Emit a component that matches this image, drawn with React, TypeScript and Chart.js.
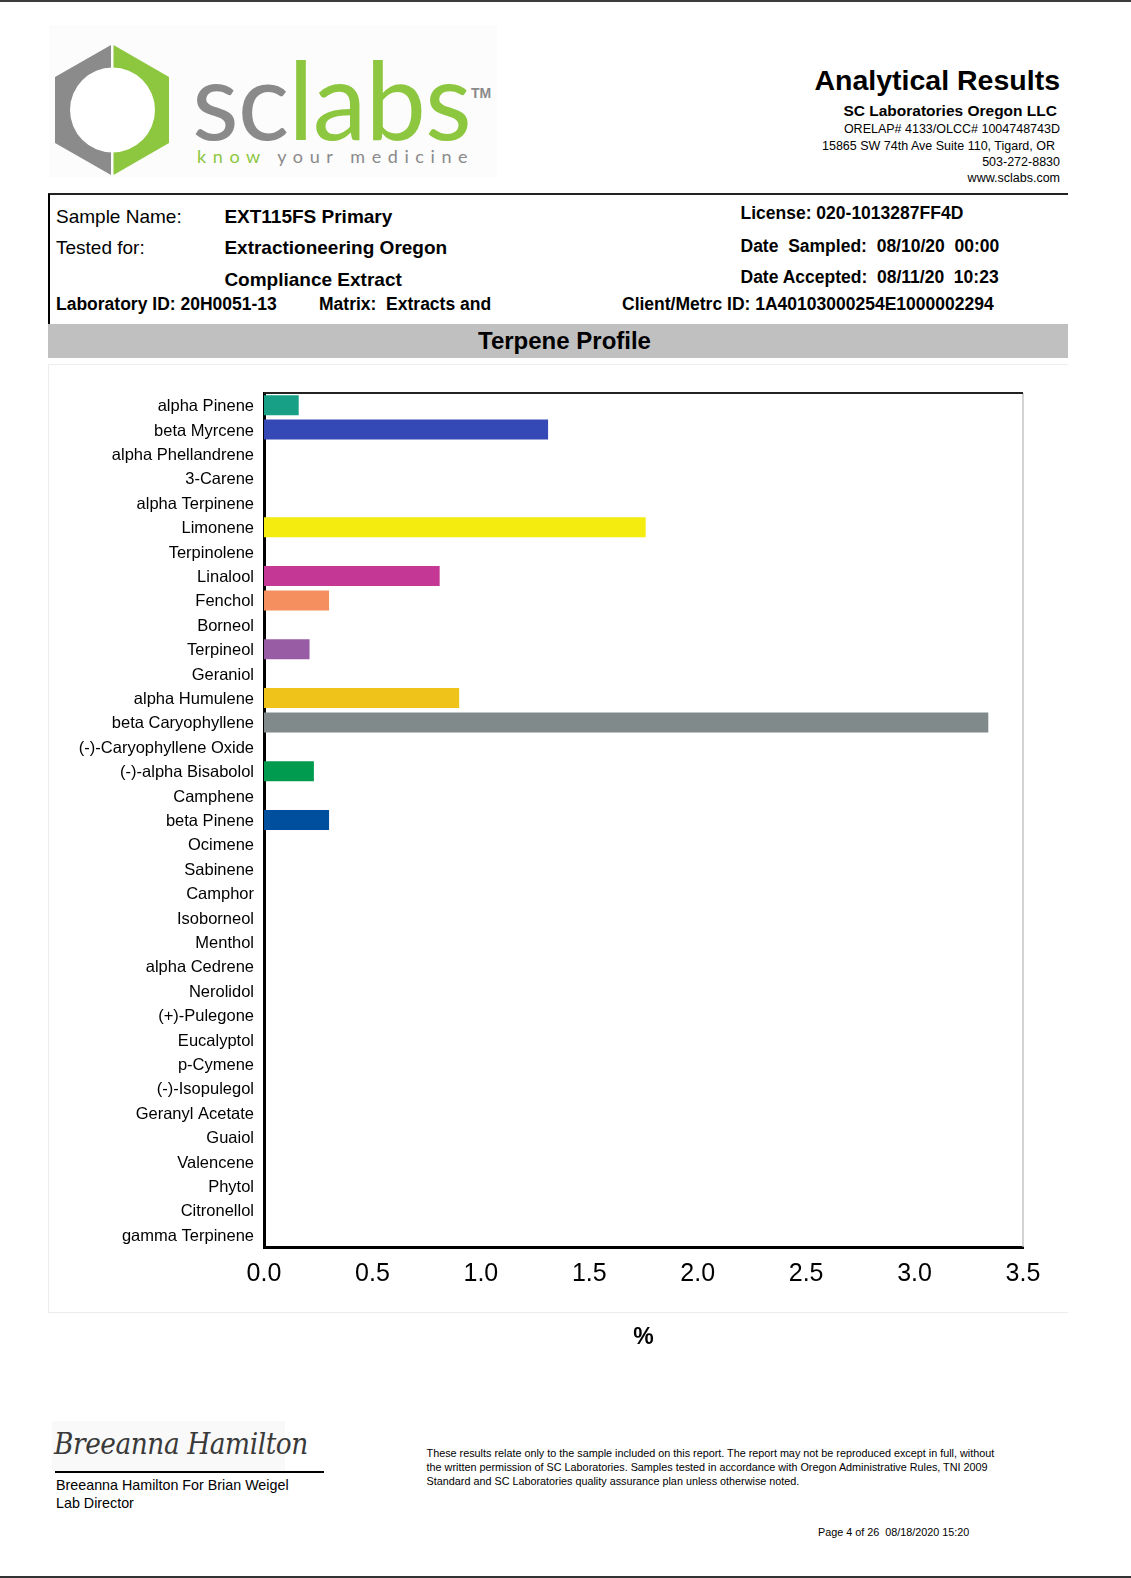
import React, { useEffect, useRef } from "react";
import { Chart, registerables } from "chart.js";

Chart.register(...registerables);

const categories = [
  "alpha Pinene",
  "beta Myrcene",
  "alpha Phellandrene",
  "3-Carene",
  "alpha Terpinene",
  "Limonene",
  "Terpinolene",
  "Linalool",
  "Fenchol",
  "Borneol",
  "Terpineol",
  "Geraniol",
  "alpha Humulene",
  "beta Caryophyllene",
  "(-)-Caryophyllene Oxide",
  "(-)-alpha Bisabolol",
  "Camphene",
  "beta Pinene",
  "Ocimene",
  "Sabinene",
  "Camphor",
  "Isoborneol",
  "Menthol",
  "alpha Cedrene",
  "Nerolidol",
  "(+)-Pulegone",
  "Eucalyptol",
  "p-Cymene",
  "(-)-Isopulegol",
  "Geranyl Acetate",
  "Guaiol",
  "Valencene",
  "Phytol",
  "Citronellol",
  "gamma Terpinene",
];

const percentValues = [
  0.16, 1.31, 0, 0, 0, 1.76, 0, 0.81, 0.3, 0, 0.21, 0, 0.9, 3.34, 0, 0.23, 0,
  0.3, 0, 0, 0, 0, 0, 0, 0, 0, 0, 0, 0, 0, 0, 0, 0, 0, 0,
];

const barColors = [
  "#17a086", "#3549b6", "#999999", "#999999", "#999999", "#f4eb0f", "#999999",
  "#c43794", "#f68f5f", "#999999", "#975ca3", "#999999", "#efc31a", "#808a8a",
  "#999999", "#009b4e", "#999999", "#004f9e", "#999999", "#999999", "#999999",
  "#999999", "#999999", "#999999", "#999999", "#999999", "#999999", "#999999",
  "#999999", "#999999", "#999999", "#999999", "#999999", "#999999", "#999999",
];

const xTickLabels = ["0.0", "0.5", "1.0", "1.5", "2.0", "2.5", "3.0", "3.5"];
const xMin = 0;
const xMax = 3.5;
const xStep = 0.5;
const xTitle = "%";

const FONT = "'Liberation Sans', Arial, Helvetica, sans-serif";

const framePlugin = {
  id: "frame",
  afterDatasetsDraw(chart: any) {
    const { ctx, chartArea: a } = chart;
    ctx.save();
    ctx.strokeStyle = "#c4c4c4";
    ctx.lineWidth = 1.5;
    ctx.beginPath();
    ctx.moveTo(a.right, a.top);
    ctx.lineTo(a.right, a.bottom);
    ctx.stroke();
    ctx.strokeStyle = "#222222";
    ctx.lineWidth = 2;
    ctx.beginPath();
    ctx.moveTo(a.left, a.top);
    ctx.lineTo(a.right, a.top);
    ctx.stroke();
    ctx.restore();
  },
};

function TerpeneChart() {
  const ref = useRef<HTMLCanvasElement | null>(null);
  useEffect(() => {
    if (!ref.current) return;
    const chart = new Chart(ref.current, {
      type: "bar",
      data: {
        labels: categories,
        datasets: [
          {
            data: percentValues,
            backgroundColor: barColors,
            borderWidth: 0,
            barPercentage: 0.82,
            categoryPercentage: 1,
          },
        ],
      },
      options: {
        indexAxis: "y",
        responsive: false,
        animation: false,
        layout: { padding: { top: 29, right: 45, bottom: 0, left: 0 } },
        plugins: {
          legend: { display: false },
          tooltip: { enabled: false },
        },
        scales: {
          x: {
            min: xMin,
            max: xMax,
            grid: { display: false, drawTicks: false },
            border: { display: true, color: "#000000", width: 3 },
            ticks: {
              stepSize: xStep,
              padding: 12,
              color: "#000000",
              font: { family: FONT, size: 25 },
              callback: (_v: any, i: number) => xTickLabels[i],
            },
            title: {
              display: true,
              text: xTitle,
              color: "#000000",
              font: { family: FONT, size: 23, weight: "bold" },
              padding: { top: 0, bottom: 0 },
            },
            afterFit: (s: any) => {
              s.height = 104;
            },
          },
          y: {
            grid: { display: false, drawTicks: false },
            border: { display: true, color: "#000000", width: 3 },
            ticks: {
              padding: 10,
              labelOffset: 1.5,
              color: "#000000",
              autoSkip: false,
              font: { family: FONT, size: 16.5 },
            },
            afterFit: (s: any) => {
              s.width = 216;
            },
          },
        },
      },
      plugins: [framePlugin],
    } as any);
    return () => chart.destroy();
  }, []);
  return <canvas ref={ref} width={1020} height={987} style={{ display: "block" }} />;
}

type TProps = {
  x?: number;
  right?: number;
  cy: number;
  size: number;
  bold?: boolean;
  children: React.ReactNode;
  color?: string;
};

function T({ x, right, cy, size, bold, children, color }: TProps) {
  const lh = Math.round(size * 1.3);
  const style: React.CSSProperties = {
    position: "absolute",
    top: cy - lh / 2,
    lineHeight: lh + "px",
    fontSize: size,
    fontWeight: bold ? "bold" : "normal",
    fontFamily: FONT,
    whiteSpace: "pre",
    color: color || "#000",
  };
  if (right !== undefined) style.right = 1131 - right;
  else style.left = x;
  return <div style={style}>{children}</div>;
}

function Logo() {
  return (
    <>
      <div
        style={{
          position: "absolute",
          left: 49,
          top: 25,
          width: 448,
          height: 152,
          background: "#fcfcfc",
        }}
      />
      <svg
        width={130}
        height={140}
        style={{ position: "absolute", left: 50, top: 40 }}
        viewBox="50 40 130 140"
      >
        <polygon points="111,45 55,77 55,143 111,175" fill="#8b8b8b" />
        <polygon points="113.5,45 169,77 169,143 113.5,175" fill="#8dc63f" />
        <circle cx={112.5} cy={110} r={42.5} fill="#ffffff" />
      </svg>
      <div
        style={{
          position: "absolute",
          left: 192,
          top: 44,
          fontFamily: "Lato, 'Noto Sans', sans-serif",
          fontWeight: 400,
          fontSize: 108,
          lineHeight: "108px",
          letterSpacing: -1,
          whiteSpace: "pre",
        }}
      >
        <span style={{ color: "#8a8a8a" }}>sc</span>
        <span style={{ color: "#8dc63f" }}>labs</span>
      </div>
      <div
        style={{
          position: "absolute",
          left: 471,
          top: 86,
          fontFamily: FONT,
          fontWeight: "bold",
          fontSize: 14,
          lineHeight: "14px",
          color: "#8a8a8a",
        }}
      >
        TM
      </div>
      <div
        style={{
          position: "absolute",
          left: 197,
          top: 145,
          fontFamily: "Lato, 'Noto Sans', sans-serif",
          fontSize: 18,
          lineHeight: "22px",
          letterSpacing: 6.6,
          whiteSpace: "pre",
        }}
      >
        <span style={{ color: "#8dc63f" }}>know</span>
        <span style={{ color: "#8a8a8a" }}> your medicine</span>
      </div>
    </>
  );
}

export default function App() {
  return (
    <div
      style={{
        position: "absolute",
        left: 0,
        top: 0,
        width: 1131,
        height: 1578,
        background: "#ffffff",
        overflow: "hidden",
        fontFamily: FONT,
      }}
    >
      <div style={{ position: "absolute", left: 0, top: 0, width: 1131, height: 2, background: "#3c3c3c" }} />
      <div style={{ position: "absolute", left: 0, top: 1576, width: 1131, height: 2, background: "#333333" }} />

      <Logo />

      <T right={1060} cy={80.5} size={28.5} bold>Analytical Results</T>
      <T right={1057} cy={111} size={15.5} bold>SC Laboratories Oregon LLC</T>
      <T right={1060} cy={129} size={12.5}>ORELAP# 4133/OLCC# 1004748743D</T>
      <T right={1055} cy={146} size={12.5}>15865 SW 74th Ave Suite 110, Tigard, OR</T>
      <T right={1060} cy={162} size={12.5}>503-272-8830</T>
      <T right={1060} cy={178} size={12.5}>www.sclabs.com</T>

      <div style={{ position: "absolute", left: 48, top: 193, width: 1020, height: 2, background: "#222" }} />
      <div style={{ position: "absolute", left: 48, top: 194, width: 1.5, height: 130, background: "#000" }} />

      <T x={56} cy={216} size={19}>Sample Name:</T>
      <T x={224.4} cy={216} size={19} bold>EXT115FS Primary</T>
      <T x={56} cy={247.5} size={19}>Tested for:</T>
      <T x={224.4} cy={247.5} size={19} bold>Extractioneering Oregon</T>
      <T x={224.4} cy={279} size={19} bold>Compliance Extract</T>
      <T x={56} cy={304} size={17.5} bold>Laboratory ID: 20H0051-13</T>
      <T x={319} cy={304} size={17.5} bold>Matrix:  Extracts and</T>
      <T x={622} cy={304} size={17.5} bold>Client/Metrc ID: 1A40103000254E1000002294</T>
      <T x={740.5} cy={213} size={17.5} bold>License: 020-1013287FF4D</T>
      <T x={740.5} cy={246.5} size={17.5} bold>Date  Sampled:  08/10/20  00:00</T>
      <T x={740.5} cy={277.7} size={17.5} bold>Date Accepted:  08/11/20  10:23</T>

      <div style={{ position: "absolute", left: 48, top: 324, width: 1020, height: 34, background: "#c0c0c0" }} />
      <div
        style={{
          position: "absolute",
          left: 48,
          top: 324,
          width: 1033,
          height: 34,
          lineHeight: "34px",
          textAlign: "center",
          fontSize: 24,
          fontWeight: "bold",
        }}
      >
        Terpene Profile
      </div>

      <div
        style={{
          position: "absolute",
          left: 48,
          top: 364,
          width: 1019,
          height: 947,
          borderTop: "1px solid #ededed",
          borderLeft: "1px solid #ededed",
          borderBottom: "1px solid #ededed",
        }}
      />
      <div style={{ position: "absolute", left: 48, top: 364 }}>
        <TerpeneChart />
      </div>

      <div style={{ position: "absolute", left: 52, top: 1421, width: 233, height: 50, background: "#f9f9f9" }} />
      <div
        style={{
          position: "absolute",
          left: 54,
          top: 1424,
          fontFamily: "'DejaVu Serif', serif",
          fontStyle: "italic",
          fontSize: 30,
          lineHeight: "40px",
          color: "#3a3a3a",
          letterSpacing: -0.5,
          transform: "scaleX(0.88)",
          transformOrigin: "left",
          whiteSpace: "pre",
          fontWeight: 300,
        }}
      >
        Breeanna Hamilton
      </div>
      <div style={{ position: "absolute", left: 55, top: 1471, width: 269, height: 2, background: "#000" }} />
      <T x={56} cy={1485} size={14.3}>Breeanna Hamilton For Brian Weigel</T>
      <T x={56} cy={1503} size={14.3}>Lab Director</T>

      <T x={426.6} cy={1453} size={10.8}>These results relate only to the sample included on this report. The report may not be reproduced except in full, without</T>
      <T x={426.6} cy={1467} size={10.8}>the written permission of SC Laboratories. Samples tested in accordance with Oregon Administrative Rules, TNI 2009</T>
      <T x={426.6} cy={1481} size={10.8}>Standard and SC Laboratories quality assurance plan unless otherwise noted.</T>
      <T x={818} cy={1532} size={10.8}>Page 4 of 26  08/18/2020 15:20</T>
    </div>
  );
}
